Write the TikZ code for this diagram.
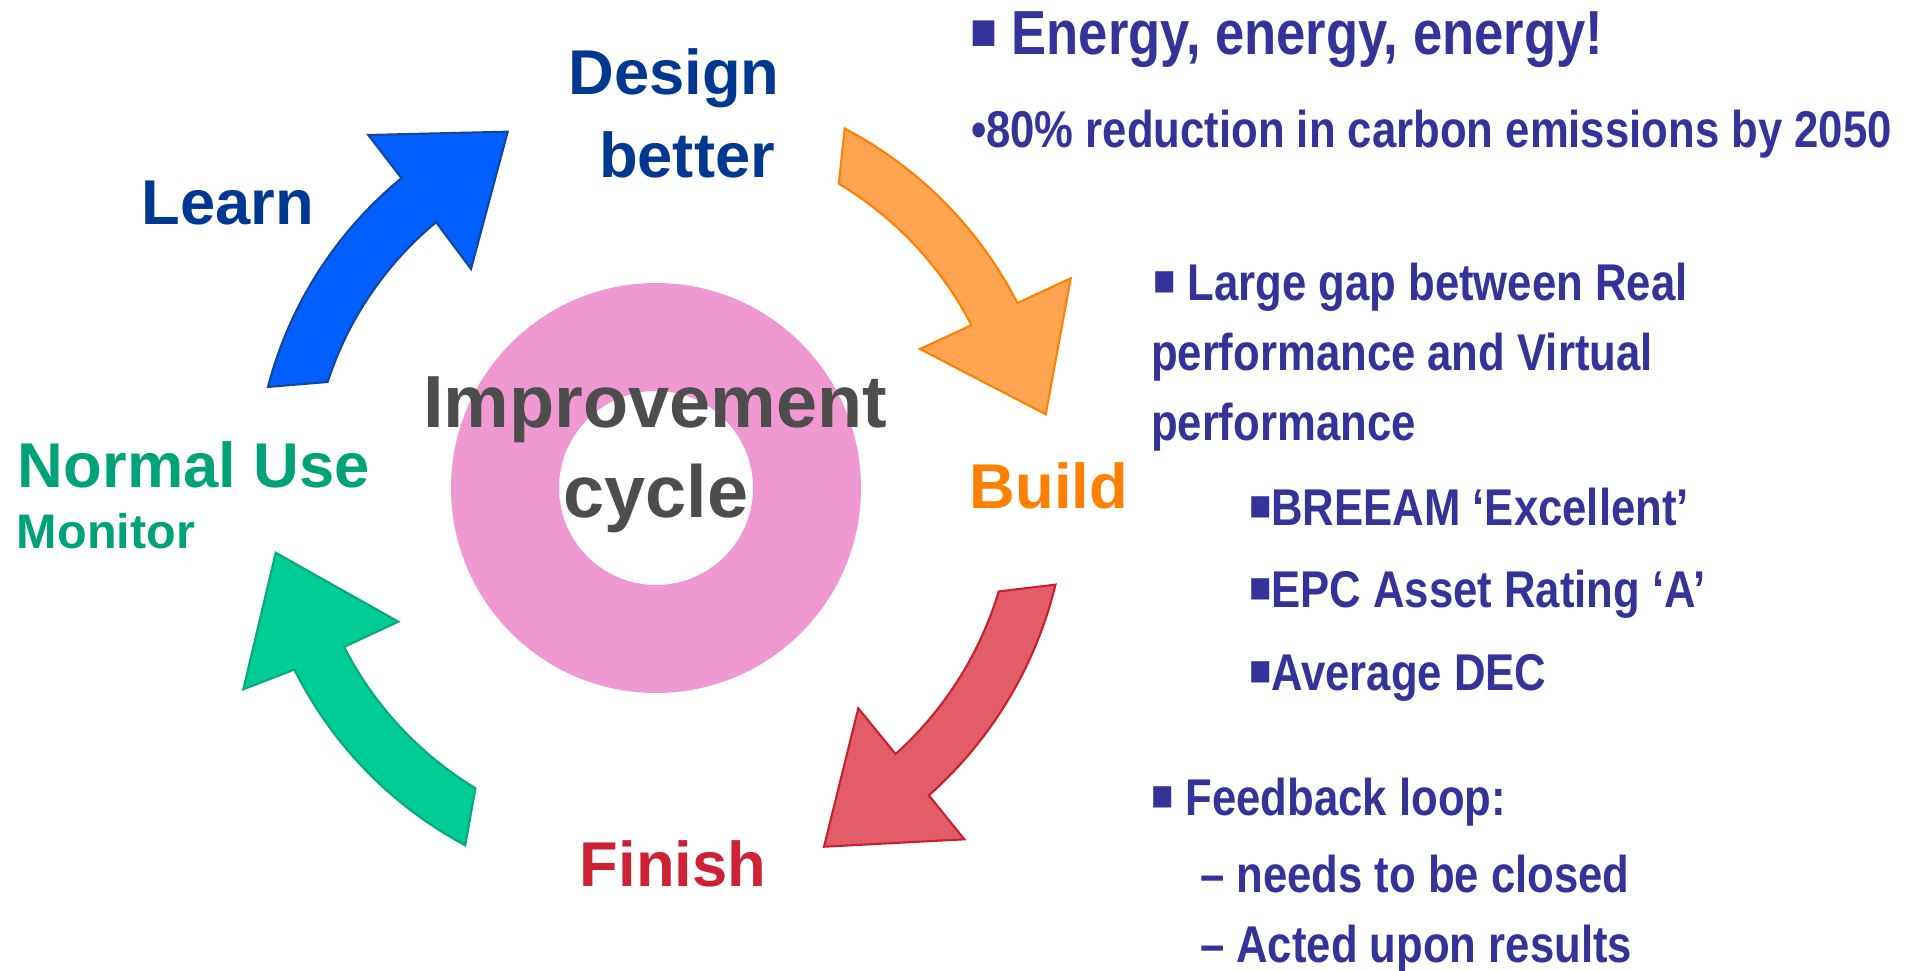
\documentclass[tikz,border=0pt]{standalone}
\usepackage{graphicx}
\usepackage{fontspec}
\setmainfont{Liberation Sans}
\newfontfamily\narrowsans{Liberation Sans}[FakeStretch=0.845]
\usetikzlibrary{calc}

\definecolor{ringpink}{RGB}{239,152,210}
\definecolor{learnfill}{RGB}{0,96,255}
\definecolor{learnedge}{RGB}{20,70,160}
\definecolor{buildfill}{RGB}{255,165,82}
\definecolor{buildedge}{RGB}{255,128,0}
\definecolor{finishfill}{RGB}{227,93,104}
\definecolor{finishedge}{RGB}{200,32,46}
\definecolor{usefill}{RGB}{0,204,150}
\definecolor{useedge}{RGB}{10,168,122}
\definecolor{designblue}{RGB}{0,56,145}
\definecolor{usegreen}{RGB}{0,163,120}
\definecolor{cyclegray}{RGB}{77,77,77}
\definecolor{buildorange}{RGB}{255,128,0}
\definecolor{finishred}{RGB}{204,34,51}
\definecolor{noteblue}{RGB}{51,51,153}

\newcommand\sqbullet{\raisebox{0.09em}{\scalebox{0.85}{■}}}

\begin{document}
\begin{tikzpicture}[x=0.01cm, y=-0.01cm,
   every node/.style={inner sep=0pt, outer sep=0pt},
   stage/.style={anchor=base, font=\fontsize{18}{22}\selectfont\bfseries},
   centre/.style={anchor=base, text=cyclegray, font=\fontsize{21}{25}\selectfont\bfseries},
   note/.style={anchor=base west, text=noteblue, font=\narrowsans\fontsize{14.7}{18}\selectfont\bfseries},
   cyclearrow/.style={line width=0.6pt, line join=miter}]

\useasboundingbox (0,0) rectangle (1910,970);
\coordinate (c) at (656,488);

% ring in the middle
\fill[ringpink, even odd rule] (c) circle[radius=205] (c) circle[radius=97];

% the four curved arrows
\draw[cyclearrow, draw=learnedge, fill=learnfill]
    ($(c)+(194.6:401)$) arc[start angle=194.6, end angle=230.6, radius=401]
    -- (368.3,135) -- (507.7,131.7) -- (471,269)
    -- ($(c)+(230.4:345)$) arc[start angle=230.4, end angle=197.9, radius=345] -- cycle;
\draw[cyclearrow, draw=buildedge, fill=buildfill]
    ($(c)+(297.7:406)$) arc[start angle=297.7, end angle=332.9, radius=406]
    -- (1070.7,278.3) -- (1045.7,414.3) -- (920,349)
    -- ($(c)+(332.7:355)$) arc[start angle=332.7, end angle=301, radius=355] -- cycle;
\draw[cyclearrow, draw=finishedge, fill=finishfill]
    ($(c)+(13.6:411)$) arc[start angle=13.6, end angle=48.4, radius=411]
    -- (964.3,839.3) -- (824,846.7) -- (858.3,708.3)
    -- ($(c)+(48:358)$) arc[start angle=48, end angle=16.8, radius=358] -- cycle;
\draw[cyclearrow, draw=useedge, fill=usefill]
    ($(c)+(118.1:405)$) arc[start angle=118.1, end angle=153.5, radius=403]
    -- (243.3,689.3) -- (275.7,552.7) -- (398.3,621.7)
    -- ($(c)+(153:350)$) arc[start angle=153, end angle=121.2, radius=352] -- cycle;

% stage labels
\node[stage, text=designblue] (design) at (674,95) {Design};
\node[stage, text=designblue] (better) at (687,178) {better};
\node[stage, text=designblue] (learn) at (228,225) {Learn};
\node[stage, text=usegreen, anchor=base west] (normaluse) at (18,487) {Normal Use};
\node[stage, text=usegreen, anchor=base west, font=\fontsize{13.8}{17}\selectfont\bfseries] (monitor) at (17,548) {Monitor};
\node[stage, text=buildorange] (build) at (1049,508) {Build};
\node[stage, text=finishred] (finish) at (673,886) {Finish};
\node[centre] (improvement) at (655,427) {Improvement};
\node[centre] (cycle) at (656,517) {cycle};

% notes on the right
\node[note, font=\narrowsans\fontsize{17.7}{21}\selectfont\bfseries] (energy) at (970,55) {\sqbullet{} Energy, energy, energy!};
\node[note] (carbon) at (971,147) {•80\% reduction in carbon emissions by 2050};
\node[note] (gap) at (1153,300) {\sqbullet{} Large gap between Real};
\node[note] (gapb) at (1151,370) {performance and Virtual};
\node[note] (gapc) at (1151,440) {performance};
\node[note] (breeam) at (1249,525) {\sqbullet BREEAM ‘Excellent’};
\node[note] (epc) at (1249,607) {\sqbullet EPC Asset Rating ‘A’};
\node[note] (dec) at (1249,690) {\sqbullet Average DEC};
\node[note] (feedback) at (1151,815) {\sqbullet{} Feedback loop:};
\node[note] (closed) at (1200,892) {– needs to be closed};
\node[note] (acted) at (1200,962) {– Acted upon results};

\end{tikzpicture}
\end{document}
